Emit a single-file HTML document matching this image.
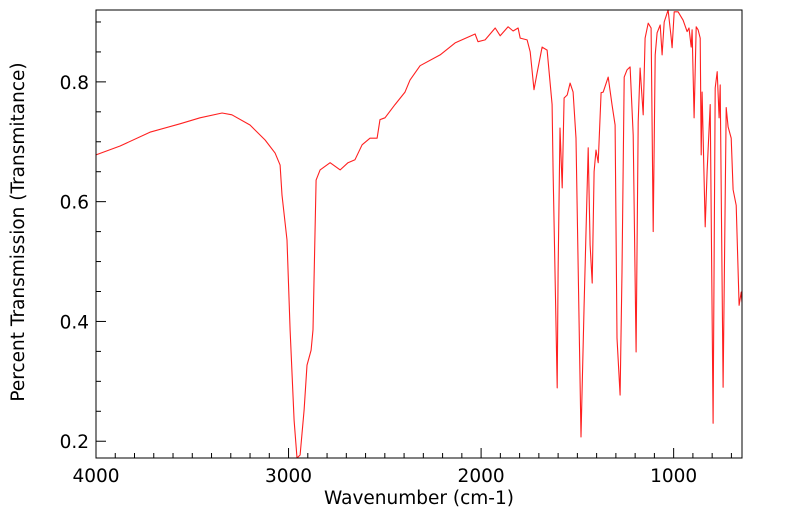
<!DOCTYPE html>
<html><head><meta charset="utf-8"><style>
body{margin:0;background:#fff;}
svg text{font-family:"DejaVu Sans","Liberation Sans",sans-serif;fill:#000;}
</style></head><body>
<svg id="chart" width="799" height="516" viewBox="0 0 799 516" xmlns="http://www.w3.org/2000/svg">
<rect x="0" y="0" width="799" height="516" fill="#fff"/>
<g id="axes"></g>
<polyline id="spectrum" fill="none" stroke="#ff2020" stroke-width="1.1" stroke-linejoin="round"/>
<rect x="96" y="10" width="646" height="448" fill="none" stroke="#000" stroke-width="1"/>
<text x="419" y="504" text-anchor="middle" font-size="18.5">Wavenumber (cm-1)</text>
<text transform="translate(24,232) rotate(-90)" text-anchor="middle" font-size="18.5">Percent Transmission (Transmitance)</text>
</svg>
<script>
const wavenumbers=[4000,3875,3720,3564,3460,3345,3294,3200,3122,3070,3044,3034,3008,2992,2971,2956,2940,2919,2904,2883,2873,2857,2836,2784,2732,2691,2655,2618,2577,2540,2525,2499,2447,2395,2369,2317,2213,2135,2031,2016,1979,1927,1901,1860,1834,1808,1797,1761,1745,1725,1709,1683,1657,1631,1626,1605,1600,1590,1579,1569,1553,1538,1522,1507,1481,1465,1444,1434,1423,1413,1403,1392,1377,1366,1340,1320,1304,1294,1278,1268,1257,1242,1226,1210,1195,1184,1174,1158,1148,1132,1117,1106,1096,1086,1070,1060,1049,1029,1013,1008,997,977,951,930,920,909,904,894,883,873,862,857,852,836,826,810,795,784,774,764,758,743,727,717,701,691,675,660,649,645];
const transmittance=[0.678,0.693,0.716,0.730,0.740,0.748,0.745,0.728,0.703,0.681,0.661,0.611,0.536,0.386,0.235,0.172,0.177,0.252,0.327,0.352,0.386,0.636,0.653,0.665,0.653,0.665,0.670,0.695,0.706,0.706,0.737,0.740,0.762,0.783,0.803,0.827,0.845,0.865,0.880,0.867,0.870,0.890,0.877,0.892,0.885,0.890,0.873,0.870,0.850,0.787,0.815,0.858,0.853,0.762,0.650,0.289,0.483,0.723,0.623,0.773,0.778,0.798,0.783,0.706,0.207,0.427,0.690,0.528,0.464,0.650,0.686,0.665,0.782,0.783,0.808,0.762,0.728,0.372,0.277,0.483,0.808,0.820,0.825,0.711,0.349,0.733,0.823,0.745,0.873,0.898,0.890,0.550,0.845,0.882,0.895,0.845,0.900,0.920,0.875,0.857,0.917,0.917,0.903,0.884,0.890,0.858,0.887,0.740,0.892,0.887,0.873,0.678,0.783,0.558,0.650,0.762,0.230,0.790,0.817,0.740,0.795,0.290,0.757,0.725,0.706,0.620,0.594,0.427,0.449,0.432];
const xTickLabels=[4000,3000,2000,1000];
const yTickLabels=[0.2,0.4,0.6,0.8];

const L=96,R=742,T=10,B=458,W0=4000,W1=645,Y0=0.172,Y1=0.92;
function xs(w){return L+(W0-w)/(W0-W1)*(R-L);}
function ys(v){return B-(v-Y0)/(Y1-Y0)*(B-T);}
const ns="http://www.w3.org/2000/svg";
const axes=document.getElementById('axes');
function line(x1,y1,x2,y2){const l=document.createElementNS(ns,'line');l.setAttribute('x1',x1);l.setAttribute('y1',y1);l.setAttribute('x2',x2);l.setAttribute('y2',y2);l.setAttribute('stroke','#000');l.setAttribute('stroke-width','1');axes.appendChild(l);return l;}
for(let w=4000;w>=700;w-=100){
  const x=xs(w),major=w%1000===0;
  const t=line(x,B,x,B-(major?10:5));
  
  
}
for(let k=4;k<=18;k++){
  const v=k*0.05,y=ys(v);
  if(y<T)continue;
  const major=k%4===0;
  const t=line(L,y,L+(major?10:5),y);
  
  
}
xTickLabels.forEach(w=>{
  const t=document.createElementNS(ns,'text');
  t.setAttribute('x',xs(w));t.setAttribute('y',482);t.setAttribute('text-anchor','middle');t.setAttribute('font-size','18.5');
  t.textContent=w;
  
  
  axes.appendChild(t);
});
yTickLabels.forEach(v=>{
  const t=document.createElementNS(ns,'text');
  t.setAttribute('x',89);t.setAttribute('y',ys(v)+7);t.setAttribute('text-anchor','end');t.setAttribute('font-size','18.5');
  t.textContent=v.toFixed(1);
  
  
  axes.appendChild(t);
});
document.getElementById('spectrum').setAttribute('points',wavenumbers.map((w,i)=>xs(w).toFixed(1)+','+ys(transmittance[i]).toFixed(1)).join(' '));
</script>
</body></html>
